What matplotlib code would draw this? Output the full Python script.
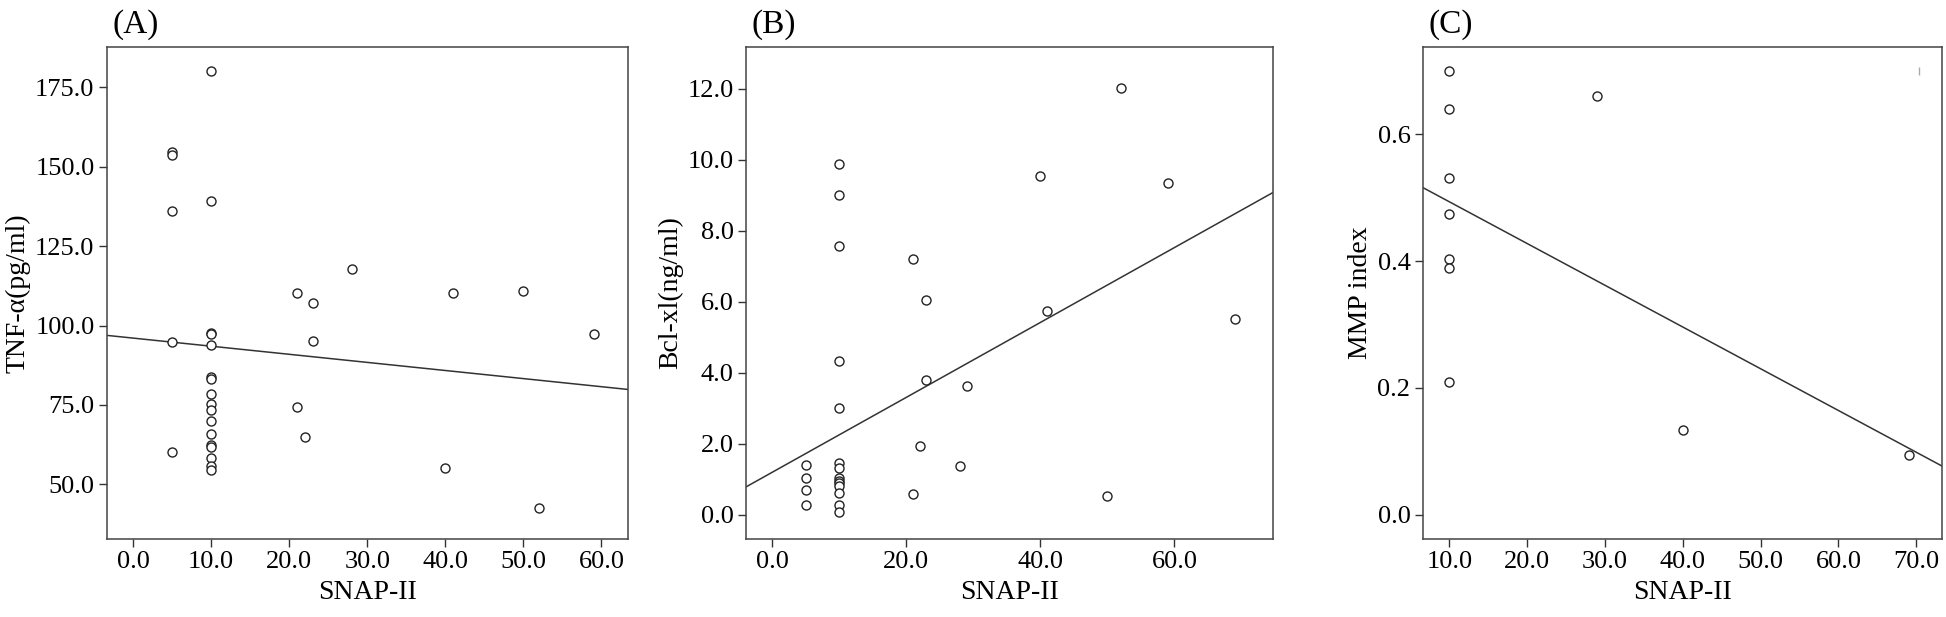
import matplotlib
matplotlib.use('Agg')
import matplotlib.pyplot as plt
from matplotlib.ticker import FormatStrFormatter

plt.rcParams['font.family'] = ['Liberation Serif', 'DejaVu Serif']

# (A) SNAP-II vs TNF-alpha
a_x = [5, 5, 5, 5, 5,
       10, 10, 10, 10, 10, 10, 10, 10, 10, 10, 10, 10, 10, 10, 10, 10, 10,
       21, 21, 22, 23, 23, 28, 40, 41, 50, 52, 59]
a_y = [154.5, 153.6, 136.1, 94.7, 60.2,
       180.0, 139.3, 97.6, 97.2, 93.9, 83.8, 83.3, 78.5, 75.3, 73.4, 70.0, 65.8, 62.3, 61.8, 58.4, 55.8, 54.4,
       110.4, 74.3, 64.8, 107.0, 95.1, 117.9, 55.2, 110.4, 110.8, 42.5, 97.4]
a_fit = (96.05, -0.255)   # intercept, slope

# (B) SNAP-II vs Bcl-xl
b_x = [5, 5, 5, 5,
       10, 10, 10, 10, 10, 10, 10, 10, 10, 10, 10, 10, 10, 10,
       21, 21, 22, 23, 23, 28, 29, 40, 41, 50, 52, 59, 69]
b_y = [1.39, 1.04, 0.69, 0.27,
       9.88, 9.01, 7.56, 4.32, 3.01, 1.44, 1.30, 1.02, 0.95, 0.88, 0.80, 0.62, 0.28, 0.08,
       7.19, 0.57, 1.92, 6.04, 3.79, 1.37, 3.63, 9.53, 5.74, 0.51, 12.03, 9.36, 5.51]
b_fit = (1.19, 0.1056)

# (C) SNAP-II vs MMP index
c_x = [10, 10, 10, 10, 10, 10, 10, 29, 40, 69]
c_y = [0.700, 0.640, 0.531, 0.475, 0.403, 0.389, 0.210, 0.660, 0.133, 0.094]
c_fit = (0.5596, -0.00659)
c_mark_x = [70.4]
c_mark_y = [0.70]

panels = [
    dict(x=a_x, y=a_y, fit=a_fit, tag='(A)', ylabel='TNF-α(pg/ml)',
         xlim=(-3.35, 63.4), ylim=(32.8, 187.7),
         xticks=[0, 10, 20, 30, 40, 50, 60], yticks=[50, 75, 100, 125, 150, 175]),
    dict(x=b_x, y=b_y, fit=b_fit, tag='(B)', ylabel='Bcl-xl(ng/ml)',
         xlim=(-3.9, 74.7), ylim=(-0.69, 13.18),
         xticks=[0, 20, 40, 60], yticks=[0, 2, 4, 6, 8, 10, 12]),
    dict(x=c_x, y=c_y, fit=c_fit, tag='(C)', ylabel='MMP index',
         xlim=(6.62, 73.3), ylim=(-0.0386, 0.738),
         xticks=[10, 20, 30, 40, 50, 60, 70], yticks=[0.0, 0.2, 0.4, 0.6]),
]

W, H = 1946, 617
fig = plt.figure(figsize=(W / 100, H / 100), dpi=100)
lefts = [107, 746, 1423]
rights = [628, 1273, 1942]
top, bottom = 47, 539

for p, l, r in zip(panels, lefts, rights):
    ax = fig.add_axes([l / W, 1 - bottom / H, (r - l) / W, (bottom - top) / H])
    ax.plot(p['x'], p['y'], 'o', mfc='white', mec='#222222', ms=6.5, mew=1.0, zorder=3)
    ax.axline((0, p['fit'][0]), slope=p['fit'][1], color='#333333', lw=1.1, zorder=2)
    ax.set_xlim(p['xlim'])
    ax.set_ylim(p['ylim'])
    ax.set_xticks(p['xticks'])
    ax.set_yticks(p['yticks'])
    ax.xaxis.set_major_formatter(FormatStrFormatter('%.1f'))
    ax.yaxis.set_major_formatter(FormatStrFormatter('%.1f'))
    ax.tick_params(labelsize=19, length=6, width=1, color='#333333', pad=3)
    for s in ax.spines.values():
        s.set_color('#444444')
        s.set_linewidth(1.1)
    ax.set_xlabel('SNAP-II', fontsize=20, labelpad=5)
    ax.set_ylabel(p['ylabel'], fontsize=20, labelpad=3)
    ax.text(0.01, 1.015, p['tag'], transform=ax.transAxes, fontsize=24,
            va='bottom', ha='left')
    if p['tag'] == '(C)':
        ax.plot(c_mark_x, c_mark_y, '|', color='#aaaaaa', ms=6, mew=1)

fig.savefig('out.png', dpi=100)
